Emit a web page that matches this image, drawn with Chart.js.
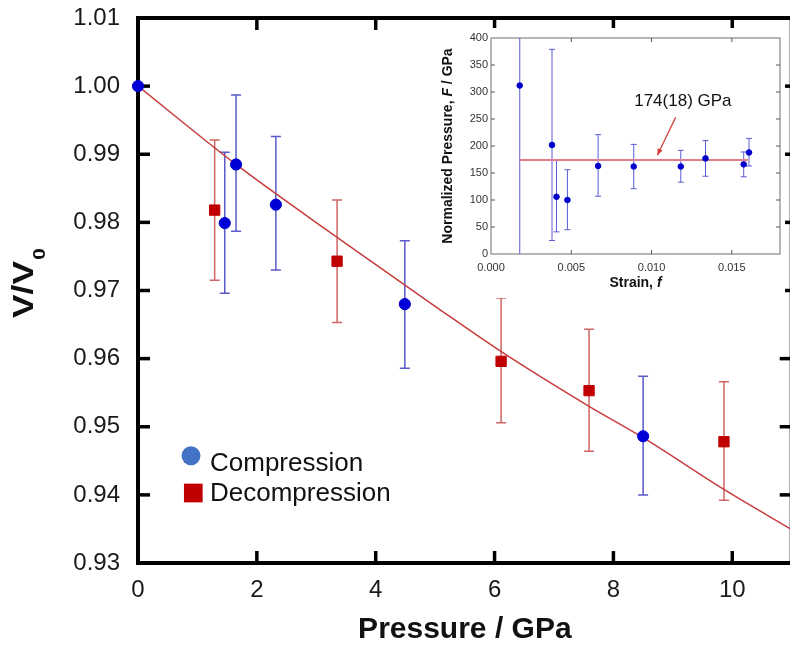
<!DOCTYPE html>
<html><head><meta charset="utf-8">
<script src="https://cdn.jsdelivr.net/npm/chart.js@4/dist/chart.umd.min.js"></script>
<style>
html,body{margin:0;padding:0;overflow:hidden;background:#fff;}
#wrap{position:relative;width:800px;height:646px;}
#main{position:absolute;left:0;top:0;}
#insetBox{position:absolute;left:430px;top:28px;width:355px;height:270px;background:#fff;}
#inset{position:absolute;left:0;top:0;}
</style></head><body>
<div id="wrap">
  <canvas id="main" width="800" height="646"></canvas>
  <div id="insetBox"><canvas id="inset" width="355" height="270"></canvas></div>
</div>
<script>
const FONT = "'Liberation Sans', Arial, Helvetica, sans-serif";

// ---- Main chart data: V/V0 vs Pressure (GPa) ----
const compP  = [0, 1.46, 1.65, 2.32, 4.49, 8.50];
const compV  = [1.0000, 0.9799, 0.9885, 0.9826, 0.9680, 0.9486];
const compHi = [null, 0.9903, 0.9987, 0.9926, 0.9773, 0.9574];
const compLo = [null, 0.9696, 0.9787, 0.9730, 0.9586, 0.9400];

const decompP  = [1.29, 3.35, 6.11, 7.59, 9.86];
const decompV  = [0.9818, 0.9743, 0.9596, 0.9553, 0.9478];
const decompHi = [0.9921, 0.9833, 0.9689, 0.9643, 0.9566];
const decompLo = [0.9715, 0.9653, 0.9506, 0.9464, 0.9392];

// fitted equation-of-state curve
const fitP = [0, 1.65, 3.35, 5.03, 6.10, 7.59, 8.50, 9.86, 11.0];
const fitV = [1.0000, 0.9885, 0.9778, 0.9675, 0.9611, 0.9530, 0.9484, 0.9408, 0.9349];

const xTicksMain = [0, 2, 4, 6, 8, 10];
const yTicksMain = [0.93, 0.94, 0.95, 0.96, 0.97, 0.98, 0.99, 1.00, 1.01];

// ---- Inset data: Normalized pressure F vs Eulerian strain f ----
const strain = [0.00179, 0.00380, 0.00408, 0.00476, 0.00667, 0.00889, 0.01182, 0.01336, 0.01574, 0.01607];
const normF  = [312, 202, 106, 100, 163, 162, 162, 177, 166, 188];
const normHi = [632, 379, 173, 156, 221, 203, 192, 210, 189, 214];
const normLo = [-8, 25, 41, 45, 107, 121, 133, 144, 143, 163];
const fitFx  = [0.00179, 0.0160];
const fitFy  = [174, 174];
const xTicksInset = [0, 0.005, 0.010, 0.015];
const yTicksInset = [0, 50, 100, 150, 200, 250, 300, 350, 400];

const pts = (xs, ys) => xs.map((x, i) => ({x: x, y: ys[i]}));

// ---- plugins ----
const framePlugin = {
  id: 'frame',
  beforeDatasetsDraw(chart, args, o) {
    const {ctx, chartArea: a, scales: {x, y}} = chart;
    ctx.save();
    ctx.strokeStyle = o.color;
    ctx.lineWidth = o.width;
    ctx.strokeRect(a.left, a.top, a.right - a.left, a.bottom - a.top);
    ctx.lineWidth = o.tickWidth;
    ctx.strokeStyle = o.tickColor || o.color;
    const L = o.tickLen;
    const seg = (x1, y1, x2, y2) => { ctx.beginPath(); ctx.moveTo(x1, y1); ctx.lineTo(x2, y2); ctx.stroke(); };
    x.ticks.forEach(t => {
      const px = x.getPixelForValue(t.value);
      if (px <= a.left + 1 || px >= a.right - 1) return;
      seg(px, a.bottom, px, a.bottom - L);
      seg(px, a.top, px, a.top + L);
    });
    y.ticks.forEach(t => {
      const py = y.getPixelForValue(t.value);
      if (py <= a.top + 1 || py >= a.bottom - 1) return;
      seg(a.left, py, a.left + L, py);
      seg(a.right, py, a.right - L, py);
    });
    ctx.restore();
  }
};

const errPlugin = {
  id: 'errbars',
  beforeDatasetsDraw(chart, args, o) {
    const {ctx, chartArea: a, scales: {x, y}} = chart;
    ctx.save();
    ctx.beginPath();
    ctx.rect(a.left, a.top, a.right - a.left, a.bottom - a.top);
    ctx.clip();
    (o.sets || []).forEach(s => {
      ctx.strokeStyle = s.color;
      ctx.lineWidth = s.width;
      s.x.forEach((xv, i) => {
        if (s.lo[i] == null) return;
        const px = x.getPixelForValue(xv);
        const pl = y.getPixelForValue(s.lo[i]);
        const ph = y.getPixelForValue(s.hi[i]);
        ctx.beginPath();
        ctx.moveTo(px, pl); ctx.lineTo(px, ph);
        ctx.moveTo(px - s.cap, pl); ctx.lineTo(px + s.cap, pl);
        ctx.moveTo(px - s.cap, ph); ctx.lineTo(px + s.cap, ph);
        ctx.stroke();
      });
    });
    ctx.restore();
  }
};

const legendPlugin = {
  id: 'inlegend',
  afterDatasetsDraw(chart, args, o) {
    const ctx = chart.ctx;
    ctx.save();
    (o.items || []).forEach(it => {
      ctx.fillStyle = it.color;
      if (it.shape === 'circle') {
        ctx.beginPath(); ctx.arc(it.mx, it.my, it.size / 2, 0, Math.PI * 2); ctx.fill();
      } else {
        ctx.fillRect(it.mx - it.size / 2, it.my - it.size / 2, it.size, it.size);
      }
      ctx.fillStyle = '#111';
      ctx.font = o.font;
      ctx.textBaseline = 'alphabetic';
      ctx.textAlign = 'left';
      ctx.fillText(it.text, it.tx, it.ty);
    });
    ctx.restore();
  }
};

const yTitlePlugin = {
  id: 'ytitle',
  afterDraw(chart, args, o) {
    const ctx = chart.ctx;
    ctx.save();
    ctx.translate(o.x, o.y);
    ctx.rotate(-Math.PI / 2);
    ctx.scale(o.stretch, 1);
    ctx.fillStyle = '#111';
    ctx.textAlign = 'left';
    ctx.textBaseline = 'alphabetic';
    ctx.font = 'bold ' + o.size + 'px ' + FONT;
    ctx.fillText(o.main, 0, 0);
    const w = ctx.measureText(o.main).width;
    ctx.font = 'bold ' + o.subSize + 'px ' + FONT;
    ctx.fillText(o.sub, w + 1, o.subDrop);
    ctx.restore();
  }
};

// text with partly italic runs; parts: [[text, italic], ...]
function drawRuns(ctx, parts, size, cx, cy) {
  let total = 0;
  parts.forEach(p => { ctx.font = (p[1] ? 'italic ' : '') + 'bold ' + size + 'px ' + FONT; total += ctx.measureText(p[0]).width; });
  let xx = cx - total / 2;
  parts.forEach(p => {
    ctx.font = (p[1] ? 'italic ' : '') + 'bold ' + size + 'px ' + FONT;
    ctx.fillText(p[0], xx, cy);
    xx += ctx.measureText(p[0]).width;
  });
}

const insetTextPlugin = {
  id: 'insettext',
  afterDraw(chart, args, o) {
    const {ctx, chartArea: a, scales: {x, y}} = chart;
    ctx.save();
    ctx.fillStyle = '#111';
    ctx.textBaseline = 'middle';
    ctx.textAlign = 'left';
    drawRuns(ctx, o.xTitle, o.titleSize, (a.left + a.right) / 2, o.xTitleY);
    ctx.save();
    ctx.translate(o.yTitleX, (a.top + a.bottom) / 2);
    ctx.rotate(-Math.PI / 2);
    drawRuns(ctx, o.yTitle, o.titleSize, 0, 0);
    ctx.restore();
    const an = o.note;
    ctx.font = an.size + 'px ' + FONT;
    ctx.textAlign = 'center';
    ctx.fillStyle = '#111';
    ctx.fillText(an.text, x.getPixelForValue(an.tx), y.getPixelForValue(an.ty));
    const x1 = x.getPixelForValue(an.ax1), y1 = y.getPixelForValue(an.ay1);
    const x2 = x.getPixelForValue(an.ax2), y2 = y.getPixelForValue(an.ay2);
    ctx.strokeStyle = an.color; ctx.fillStyle = an.color; ctx.lineWidth = 1.2;
    ctx.beginPath(); ctx.moveTo(x1, y1); ctx.lineTo(x2, y2); ctx.stroke();
    const ang = Math.atan2(y2 - y1, x2 - x1), hl = 7, hw = 0.4;
    ctx.beginPath();
    ctx.moveTo(x2, y2);
    ctx.lineTo(x2 - hl * Math.cos(ang - hw), y2 - hl * Math.sin(ang - hw));
    ctx.lineTo(x2 - hl * Math.cos(ang + hw), y2 - hl * Math.sin(ang + hw));
    ctx.closePath(); ctx.fill();
    ctx.restore();
  }
};

// ---- Main chart ----
new Chart(document.getElementById('main'), {
  type: 'scatter',
  data: {
    datasets: [
      { label: 'Compression', data: pts(compP, compV), pointStyle: 'circle', pointRadius: 5.6,
        pointBackgroundColor: '#0000d6', pointBorderColor: '#0000d6', pointBorderWidth: 1, clip: false },
      { label: 'Decompression', data: pts(decompP, decompV), pointStyle: 'rect', pointRadius: 7.3,
        pointBackgroundColor: '#c00000', pointBorderColor: '#c00000', pointBorderWidth: 1, clip: false },
      { label: 'Fit', data: pts(fitP, fitV), showLine: true, pointRadius: 0, borderColor: '#c83c3c',
        borderWidth: 1.5, cubicInterpolationMode: 'monotone' }
    ]
  },
  options: {
    responsive: false, animation: false, events: [],
    layout: { padding: { top: 18, right: 2, left: 0, bottom: 0 } },
    plugins: {
      legend: { display: false }, tooltip: { enabled: false },
      frame: { color: '#000', width: 4, tickWidth: 3.5, tickLen: 12 },
      errbars: { sets: [
        { x: compP, lo: compLo, hi: compHi, color: '#5a5ac8', width: 1.5, cap: 5 },
        { x: decompP, lo: decompLo, hi: decompHi, color: '#d06464', width: 1.5, cap: 5 }
      ] },
      inlegend: { font: '26px ' + FONT, items: [
        { shape: 'circle', color: '#4472c4', mx: 191, my: 455.7, size: 19, text: 'Compression', tx: 210, ty: 470.7 },
        { shape: 'rect', color: '#c00000', mx: 193.3, my: 493, size: 18.7, text: 'Decompression', tx: 210, ty: 501 }
      ] },
      ytitle: { x: 33, y: 318, main: 'V/V', sub: '0', size: 29, subSize: 17, subDrop: 12, stretch: 1.22 }
    },
    scales: {
      x: { type: 'linear', min: 0, max: 11,
        afterFit(s) { s.height = 83; s.paddingLeft = 0; s.paddingRight = 0; },
        afterBuildTicks(s) { s.ticks = xTicksMain.map(v => ({ value: v })); },
        grid: { display: false, drawTicks: false }, border: { display: false },
        ticks: { padding: 13, color: '#1a1a1a', maxRotation: 0, font: { family: FONT, size: 24 } },
        title: { display: true, text: 'Pressure / GPa', color: '#111',
          font: { family: FONT, size: 30, weight: 'bold', lineHeight: 1 }, padding: { top: 0, bottom: 1 } } },
      y: { type: 'linear', min: 0.93, max: 1.01,
        afterFit(s) { s.width = 138; s.paddingTop = 0; s.paddingBottom = 0; },
        afterBuildTicks(s) { s.ticks = yTicksMain.map(v => ({ value: v })); },
        grid: { display: false, drawTicks: false }, border: { display: false },
        ticks: { padding: 18, color: '#1a1a1a', font: { family: FONT, size: 24 }, callback: v => Number(v).toFixed(2) } }
    }
  },
  plugins: [framePlugin, errPlugin, legendPlugin, yTitlePlugin]
});

// ---- Inset chart ----
new Chart(document.getElementById('inset'), {
  type: 'scatter',
  data: {
    datasets: [
      { label: 'F', data: pts(strain, normF), pointStyle: 'circle', pointRadius: 2.8,
        pointBackgroundColor: '#0000cc', pointBorderColor: '#0000cc', pointBorderWidth: 1 },
      { label: 'mean', data: pts(fitFx, fitFy), showLine: true, pointRadius: 0,
        borderColor: '#e07f8c', borderWidth: 2 }
    ]
  },
  options: {
    responsive: false, animation: false, events: [],
    layout: { padding: { top: 10, right: 2, left: 0, bottom: 0 } },
    plugins: {
      legend: { display: false }, tooltip: { enabled: false },
      frame: { color: '#6e6e6e', width: 1, tickWidth: 1, tickLen: 4, tickColor: '#555' },
      errbars: { sets: [ { x: strain, lo: normLo, hi: normHi, color: '#5c5cd6', width: 1, cap: 3 } ] },
      insettext: {
        titleSize: 14, xTitleY: 255, yTitleX: 18,
        xTitle: [['Strain, ', false], ['f', true]],
        yTitle: [['Normalized Pressure, ', false], ['F', true], [' / GPa', false]],
        note: { text: '174(18) GPa', size: 17, tx: 0.01195, ty: 283, ax1: 0.0115, ay1: 253, ax2: 0.01036, ay2: 183, color: '#d03a3a' }
      }
    },
    scales: {
      x: { type: 'linear', min: 0, max: 0.018,
        afterFit(s) { s.height = 44; s.paddingLeft = 0; s.paddingRight = 0; },
        afterBuildTicks(s) { s.ticks = xTicksInset.map(v => ({ value: v })); },
        grid: { display: false, drawTicks: false }, border: { display: false },
        ticks: { padding: 7, color: '#333', maxRotation: 0, font: { family: FONT, size: 11 }, callback: v => Number(v).toFixed(3) } },
      y: { type: 'linear', min: 0, max: 400,
        afterFit(s) { s.width = 61; s.paddingTop = 0; s.paddingBottom = 0; },
        afterBuildTicks(s) { s.ticks = yTicksInset.map(v => ({ value: v })); },
        grid: { display: false, drawTicks: false }, border: { display: false },
        ticks: { padding: 3, color: '#333', font: { family: FONT, size: 11 } } }
    }
  },
  plugins: [framePlugin, errPlugin, insetTextPlugin]
});
</script>
</body></html>
